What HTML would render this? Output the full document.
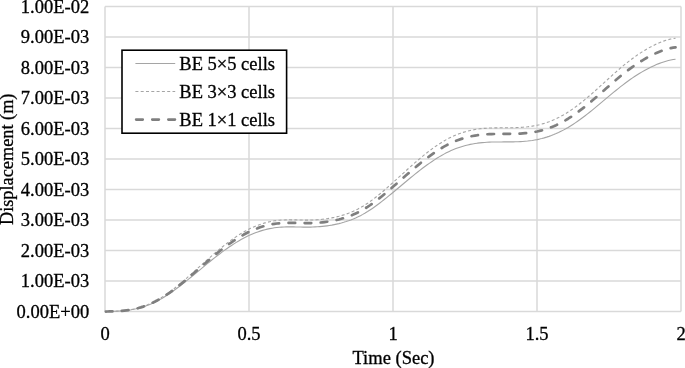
<!DOCTYPE html>
<html><head><meta charset="utf-8"><style>
html,body{margin:0;padding:0;background:#fff;width:685px;height:368px;overflow:hidden}
svg{display:block}
</style></head><body>
<svg width="685" height="368" viewBox="0 0 685 368">
<rect width="685" height="368" fill="#fff"/>
<g stroke="#d9d9d9" stroke-width="1.5" fill="none"><line x1="105.00" y1="311.50" x2="681.00" y2="311.50"/><line x1="105.00" y1="281.00" x2="681.00" y2="281.00"/><line x1="105.00" y1="250.50" x2="681.00" y2="250.50"/><line x1="105.00" y1="220.00" x2="681.00" y2="220.00"/><line x1="105.00" y1="189.50" x2="681.00" y2="189.50"/><line x1="105.00" y1="159.00" x2="681.00" y2="159.00"/><line x1="105.00" y1="128.50" x2="681.00" y2="128.50"/><line x1="105.00" y1="98.00" x2="681.00" y2="98.00"/><line x1="105.00" y1="67.50" x2="681.00" y2="67.50"/><line x1="105.00" y1="37.00" x2="681.00" y2="37.00"/><line x1="105.00" y1="6.50" x2="681.00" y2="6.50"/><line x1="105.00" y1="6.50" x2="105.00" y2="311.50"/><line x1="249.00" y1="6.50" x2="249.00" y2="311.50"/><line x1="393.00" y1="6.50" x2="393.00" y2="311.50"/><line x1="537.00" y1="6.50" x2="537.00" y2="311.50"/><line x1="681.00" y1="6.50" x2="681.00" y2="311.50"/></g>
<g fill="none" stroke-linejoin="round">
<path d="M105.00 311.60 L107.39 311.52 L109.77 311.45 L112.16 311.39 L114.55 311.30 L116.94 311.20 L119.32 311.06 L121.71 310.90 L124.10 310.69 L126.48 310.44 L128.87 310.13 L131.26 309.76 L133.65 309.32 L136.03 308.81 L138.42 308.23 L140.81 307.57 L143.19 306.84 L145.58 306.02 L147.97 305.14 L150.36 304.17 L152.74 303.13 L155.13 302.01 L157.52 300.81 L159.90 299.54 L162.29 298.18 L164.68 296.74 L167.07 295.23 L169.45 293.65 L171.84 292.01 L174.23 290.31 L176.61 288.56 L179.00 286.75 L181.39 284.91 L183.78 283.03 L186.16 281.12 L188.55 279.19 L190.94 277.23 L193.32 275.26 L195.71 273.28 L198.10 271.30 L200.49 269.32 L202.87 267.34 L205.26 265.37 L207.65 263.41 L210.03 261.46 L212.42 259.54 L214.81 257.65 L217.20 255.78 L219.58 253.95 L221.97 252.16 L224.36 250.41 L226.74 248.70 L229.13 247.05 L231.52 245.44 L233.91 243.89 L236.29 242.39 L238.68 240.96 L241.07 239.58 L243.45 238.27 L245.84 237.03 L248.23 235.86 L250.62 234.76 L253.00 233.74 L255.39 232.79 L257.78 231.91 L260.16 231.11 L262.55 230.38 L264.94 229.72 L267.33 229.14 L269.71 228.62 L272.10 228.18 L274.49 227.80 L276.87 227.50 L279.26 227.26 L281.65 227.09 L284.04 226.98 L286.42 226.91 L288.81 226.88 L291.20 226.89 L293.58 226.91 L295.97 226.96 L298.36 227.01 L300.75 227.06 L303.13 227.10 L305.52 227.12 L307.91 227.12 L310.29 227.08 L312.68 227.02 L315.07 226.92 L317.46 226.79 L319.84 226.61 L322.23 226.40 L324.62 226.14 L327.00 225.84 L329.39 225.49 L331.78 225.10 L334.17 224.65 L336.55 224.15 L338.94 223.60 L341.33 222.99 L343.71 222.32 L346.10 221.58 L348.49 220.78 L350.88 219.90 L353.26 218.96 L355.65 217.93 L358.04 216.83 L360.42 215.65 L362.81 214.38 L365.20 213.02 L367.59 211.58 L369.97 210.05 L372.36 208.45 L374.75 206.78 L377.13 205.05 L379.52 203.26 L381.91 201.43 L384.30 199.55 L386.68 197.63 L389.07 195.69 L391.46 193.72 L393.84 191.74 L396.23 189.74 L398.62 187.74 L401.01 185.73 L403.39 183.73 L405.78 181.73 L408.17 179.75 L410.55 177.77 L412.94 175.82 L415.33 173.90 L417.72 172.00 L420.10 170.13 L422.49 168.30 L424.88 166.51 L427.26 164.77 L429.65 163.08 L432.04 161.44 L434.43 159.85 L436.81 158.32 L439.20 156.85 L441.59 155.45 L443.97 154.12 L446.36 152.86 L448.75 151.67 L451.14 150.56 L453.52 149.53 L455.91 148.59 L458.30 147.71 L460.68 146.91 L463.07 146.18 L465.46 145.52 L467.85 144.93 L470.23 144.40 L472.62 143.93 L475.01 143.52 L477.39 143.17 L479.78 142.88 L482.17 142.63 L484.56 142.44 L486.94 142.28 L489.33 142.16 L491.72 142.07 L494.10 142.01 L496.49 141.97 L498.88 141.95 L501.27 141.93 L503.65 141.92 L506.04 141.91 L508.43 141.90 L510.81 141.88 L513.20 141.84 L515.59 141.78 L517.98 141.69 L520.36 141.58 L522.75 141.44 L525.14 141.25 L527.52 141.03 L529.91 140.75 L532.30 140.43 L534.69 140.04 L537.07 139.60 L539.46 139.09 L541.85 138.51 L544.23 137.86 L546.62 137.14 L549.01 136.36 L551.40 135.50 L553.78 134.57 L556.17 133.57 L558.56 132.49 L560.94 131.34 L563.33 130.12 L565.72 128.82 L568.11 127.44 L570.49 125.98 L572.88 124.46 L575.27 122.88 L577.65 121.23 L580.04 119.53 L582.43 117.78 L584.82 115.98 L587.20 114.13 L589.59 112.25 L591.98 110.34 L594.37 108.40 L596.75 106.43 L599.14 104.44 L601.53 102.44 L603.91 100.43 L606.30 98.42 L608.69 96.42 L611.08 94.43 L613.46 92.45 L615.85 90.50 L618.24 88.57 L620.62 86.68 L623.01 84.83 L625.40 83.03 L627.79 81.28 L630.17 79.57 L632.56 77.92 L634.95 76.32 L637.33 74.78 L639.72 73.29 L642.11 71.87 L644.50 70.50 L646.88 69.19 L649.27 67.94 L651.66 66.76 L654.04 65.65 L656.43 64.60 L658.82 63.63 L661.21 62.74 L663.59 61.92 L665.98 61.20 L668.37 60.56 L670.75 60.02 L673.14 59.58 L675.53 59.24" stroke="#a5a5a5" stroke-width="1.1"/>
<path d="M105.00 311.60 L107.39 311.51 L109.77 311.44 L112.16 311.37 L114.55 311.28 L116.94 311.16 L119.32 311.02 L121.71 310.84 L124.10 310.62 L126.48 310.34 L128.87 310.01 L131.26 309.61 L133.65 309.13 L136.03 308.58 L138.42 307.95 L140.81 307.23 L143.19 306.44 L145.58 305.56 L147.97 304.60 L150.36 303.55 L152.74 302.42 L155.13 301.21 L157.52 299.91 L159.90 298.53 L162.29 297.06 L164.68 295.51 L167.07 293.87 L169.45 292.16 L171.84 290.38 L174.23 288.54 L176.61 286.64 L179.00 284.68 L181.39 282.69 L183.78 280.65 L186.16 278.58 L188.55 276.49 L190.94 274.37 L193.32 272.23 L195.71 270.09 L198.10 267.94 L200.49 265.79 L202.87 263.65 L205.26 261.51 L207.65 259.39 L210.03 257.29 L212.42 255.20 L214.81 253.15 L217.20 251.13 L219.58 249.15 L221.97 247.21 L224.36 245.31 L226.74 243.46 L229.13 241.67 L231.52 239.93 L233.91 238.25 L236.29 236.63 L238.68 235.07 L241.07 233.58 L243.45 232.16 L245.84 230.82 L248.23 229.55 L250.62 228.36 L253.00 227.25 L255.39 226.22 L257.78 225.27 L260.16 224.40 L262.55 223.61 L264.94 222.90 L267.33 222.27 L269.71 221.71 L272.10 221.23 L274.49 220.82 L276.87 220.49 L279.26 220.24 L281.65 220.05 L284.04 219.93 L286.42 219.85 L288.81 219.82 L291.20 219.83 L293.58 219.86 L295.97 219.90 L298.36 219.96 L300.75 220.01 L303.13 220.06 L305.52 220.08 L307.91 220.08 L310.29 220.04 L312.68 219.97 L315.07 219.87 L317.46 219.72 L319.84 219.53 L322.23 219.30 L324.62 219.02 L327.00 218.70 L329.39 218.32 L331.78 217.89 L334.17 217.41 L336.55 216.87 L338.94 216.27 L341.33 215.61 L343.71 214.88 L346.10 214.08 L348.49 213.21 L350.88 212.26 L353.26 211.24 L355.65 210.13 L358.04 208.94 L360.42 207.65 L362.81 206.28 L365.20 204.81 L367.59 203.24 L369.97 201.59 L372.36 199.85 L374.75 198.05 L377.13 196.17 L379.52 194.24 L381.91 192.25 L384.30 190.21 L386.68 188.14 L389.07 186.03 L391.46 183.90 L393.84 181.75 L396.23 179.59 L398.62 177.42 L401.01 175.25 L403.39 173.08 L405.78 170.91 L408.17 168.76 L410.55 166.62 L412.94 164.51 L415.33 162.42 L417.72 160.36 L420.10 158.34 L422.49 156.36 L424.88 154.43 L427.26 152.54 L429.65 150.70 L432.04 148.93 L434.43 147.21 L436.81 145.55 L439.20 143.96 L441.59 142.44 L443.97 141.00 L446.36 139.63 L448.75 138.35 L451.14 137.15 L453.52 136.03 L455.91 135.00 L458.30 134.06 L460.68 133.19 L463.07 132.40 L465.46 131.68 L467.85 131.04 L470.23 130.47 L472.62 129.96 L475.01 129.52 L477.39 129.14 L479.78 128.82 L482.17 128.56 L484.56 128.34 L486.94 128.17 L489.33 128.04 L491.72 127.95 L494.10 127.88 L496.49 127.84 L498.88 127.81 L501.27 127.79 L503.65 127.78 L506.04 127.77 L508.43 127.76 L510.81 127.73 L513.20 127.69 L515.59 127.63 L517.98 127.54 L520.36 127.42 L522.75 127.26 L525.14 127.06 L527.52 126.82 L529.91 126.52 L532.30 126.16 L534.69 125.75 L537.07 125.27 L539.46 124.71 L541.85 124.08 L544.23 123.38 L546.62 122.61 L549.01 121.76 L551.40 120.83 L553.78 119.82 L556.17 118.74 L558.56 117.57 L560.94 116.32 L563.33 115.00 L565.72 113.59 L568.11 112.09 L570.49 110.52 L572.88 108.87 L575.27 107.15 L577.65 105.37 L580.04 103.53 L582.43 101.63 L584.82 99.68 L587.20 97.68 L589.59 95.64 L591.98 93.57 L594.37 91.46 L596.75 89.33 L599.14 87.18 L601.53 85.01 L603.91 82.84 L606.30 80.66 L608.69 78.49 L611.08 76.33 L613.46 74.19 L615.85 72.08 L618.24 69.99 L620.62 67.94 L623.01 65.94 L625.40 63.99 L627.79 62.09 L630.17 60.24 L632.56 58.45 L634.95 56.72 L637.33 55.05 L639.72 53.44 L642.11 51.89 L644.50 50.41 L646.88 48.99 L649.27 47.64 L651.66 46.36 L654.04 45.16 L656.43 44.02 L658.82 42.97 L661.21 42.00 L663.59 41.12 L665.98 40.33 L668.37 39.65 L670.75 39.06 L673.14 38.58 L675.53 38.21" stroke="#a5a5a5" stroke-width="1.1" stroke-dasharray="3 2.3"/>
<path d="M105.00 311.60 L107.39 311.51 L109.77 311.45 L112.16 311.38 L114.55 311.29 L116.94 311.18 L119.32 311.04 L121.71 310.87 L124.10 310.65 L126.48 310.38 L128.87 310.06 L131.26 309.67 L133.65 309.22 L136.03 308.68 L138.42 308.07 L140.81 307.38 L143.19 306.61 L145.58 305.76 L147.97 304.83 L150.36 303.82 L152.74 302.73 L155.13 301.56 L157.52 300.30 L159.90 298.96 L162.29 297.54 L164.68 296.04 L167.07 294.46 L169.45 292.81 L171.84 291.08 L174.23 289.30 L176.61 287.47 L179.00 285.58 L181.39 283.65 L183.78 281.68 L186.16 279.68 L188.55 277.65 L190.94 275.61 L193.32 273.54 L195.71 271.47 L198.10 269.40 L200.49 267.32 L202.87 265.24 L205.26 263.18 L207.65 261.13 L210.03 259.09 L212.42 257.08 L214.81 255.10 L217.20 253.14 L219.58 251.22 L221.97 249.35 L224.36 247.51 L226.74 245.73 L229.13 243.99 L231.52 242.31 L233.91 240.69 L236.29 239.12 L238.68 237.61 L241.07 236.17 L243.45 234.80 L245.84 233.50 L248.23 232.28 L250.62 231.13 L253.00 230.06 L255.39 229.06 L257.78 228.14 L260.16 227.30 L262.55 226.54 L264.94 225.85 L267.33 225.24 L269.71 224.70 L272.10 224.23 L274.49 223.84 L276.87 223.52 L279.26 223.27 L281.65 223.09 L284.04 222.97 L286.42 222.90 L288.81 222.87 L291.20 222.88 L293.58 222.91 L295.97 222.95 L298.36 223.01 L300.75 223.06 L303.13 223.10 L305.52 223.12 L307.91 223.12 L310.29 223.09 L312.68 223.02 L315.07 222.92 L317.46 222.77 L319.84 222.59 L322.23 222.37 L324.62 222.10 L327.00 221.78 L329.39 221.42 L331.78 221.01 L334.17 220.54 L336.55 220.02 L338.94 219.44 L341.33 218.80 L343.71 218.09 L346.10 217.32 L348.49 216.48 L350.88 215.57 L353.26 214.58 L355.65 213.50 L358.04 212.35 L360.42 211.11 L362.81 209.78 L365.20 208.36 L367.59 206.84 L369.97 205.25 L372.36 203.57 L374.75 201.82 L377.13 200.01 L379.52 198.14 L381.91 196.22 L384.30 194.25 L386.68 192.25 L389.07 190.21 L391.46 188.15 L393.84 186.07 L396.23 183.98 L398.62 181.88 L401.01 179.78 L403.39 177.68 L405.78 175.59 L408.17 173.51 L410.55 171.45 L412.94 169.40 L415.33 167.38 L417.72 165.39 L420.10 163.44 L422.49 161.52 L424.88 159.65 L427.26 157.83 L429.65 156.05 L432.04 154.34 L434.43 152.67 L436.81 151.07 L439.20 149.54 L441.59 148.07 L443.97 146.67 L446.36 145.35 L448.75 144.11 L451.14 142.95 L453.52 141.87 L455.91 140.88 L458.30 139.96 L460.68 139.12 L463.07 138.36 L465.46 137.67 L467.85 137.05 L470.23 136.49 L472.62 136.00 L475.01 135.58 L477.39 135.21 L479.78 134.90 L482.17 134.64 L484.56 134.44 L486.94 134.27 L489.33 134.15 L491.72 134.06 L494.10 133.99 L496.49 133.95 L498.88 133.92 L501.27 133.91 L503.65 133.90 L506.04 133.89 L508.43 133.87 L510.81 133.85 L513.20 133.81 L515.59 133.75 L517.98 133.66 L520.36 133.54 L522.75 133.39 L525.14 133.20 L527.52 132.96 L529.91 132.67 L532.30 132.33 L534.69 131.93 L537.07 131.46 L539.46 130.93 L541.85 130.32 L544.23 129.64 L546.62 128.89 L549.01 128.07 L551.40 127.17 L553.78 126.20 L556.17 125.15 L558.56 124.02 L560.94 122.82 L563.33 121.53 L565.72 120.17 L568.11 118.73 L570.49 117.21 L572.88 115.61 L575.27 113.95 L577.65 112.23 L580.04 110.44 L582.43 108.61 L584.82 106.72 L587.20 104.79 L589.59 102.83 L591.98 100.82 L594.37 98.79 L596.75 96.72 L599.14 94.64 L601.53 92.55 L603.91 90.45 L606.30 88.34 L608.69 86.24 L611.08 84.16 L613.46 82.09 L615.85 80.04 L618.24 78.03 L620.62 76.05 L623.01 74.11 L625.40 72.22 L627.79 70.38 L630.17 68.60 L632.56 66.87 L634.95 65.20 L637.33 63.58 L639.72 62.02 L642.11 60.53 L644.50 59.09 L646.88 57.72 L649.27 56.42 L651.66 55.18 L654.04 54.02 L656.43 52.92 L658.82 51.90 L661.21 50.97 L663.59 50.12 L665.98 49.36 L668.37 48.69 L670.75 48.12 L673.14 47.66 L675.53 47.30" stroke="#7f7f7f" stroke-width="2.7" stroke-dasharray="6.6 9.48" stroke-dashoffset="-0.8" stroke-linecap="round"/>
</g>
<g font-family="'Liberation Serif', 'Times New Roman', serif" font-size="18.5" fill="#000" stroke="#000" stroke-width="0.3">
<text x="89.2" y="317.60" text-anchor="end">0.00E+00</text><text x="89.2" y="287.10" text-anchor="end">1.00E-03</text><text x="89.2" y="256.60" text-anchor="end">2.00E-03</text><text x="89.2" y="226.10" text-anchor="end">3.00E-03</text><text x="89.2" y="195.60" text-anchor="end">4.00E-03</text><text x="89.2" y="165.10" text-anchor="end">5.00E-03</text><text x="89.2" y="134.60" text-anchor="end">6.00E-03</text><text x="89.2" y="104.10" text-anchor="end">7.00E-03</text><text x="89.2" y="73.60" text-anchor="end">8.00E-03</text><text x="89.2" y="43.10" text-anchor="end">9.00E-03</text><text x="89.2" y="12.60" text-anchor="end">1.00E-02</text>
<text x="105.00" y="340" text-anchor="middle">0</text><text x="249.00" y="340" text-anchor="middle">0.5</text><text x="393.00" y="340" text-anchor="middle">1</text><text x="537.00" y="340" text-anchor="middle">1.5</text><text x="681.00" y="340" text-anchor="middle">2</text>
<text x="393.5" y="364" text-anchor="middle">Time (Sec)</text>
<text transform="translate(13,159.3) rotate(-90)" text-anchor="middle" font-size="18.3">Displacement (m)</text>
</g>
<rect x="122" y="50.2" width="164.6" height="83" fill="#fff" stroke="#000" stroke-width="1.6"/>
<g fill="none">
<line x1="135.4" y1="63.5" x2="175.2" y2="63.5" stroke="#a5a5a5" stroke-width="1.1"/>
<line x1="135.4" y1="91.5" x2="175.2" y2="91.5" stroke="#a5a5a5" stroke-width="1.1" stroke-dasharray="3 2.3"/>
<line x1="136.15" y1="119.6" x2="174.95" y2="119.6" stroke="#7f7f7f" stroke-width="2.7" stroke-dasharray="6.6 9.5" stroke-linecap="round"/>
</g>
<g font-family="'Liberation Serif', 'Times New Roman', serif" font-size="18.5" fill="#000" stroke="#000" stroke-width="0.3">
<text x="179.3" y="69.8">BE 5×5 cells</text>
<text x="179.3" y="97.7">BE 3×3 cells</text>
<text x="179.3" y="125.7">BE 1×1 cells</text>
</g>
</svg>
</body></html>
